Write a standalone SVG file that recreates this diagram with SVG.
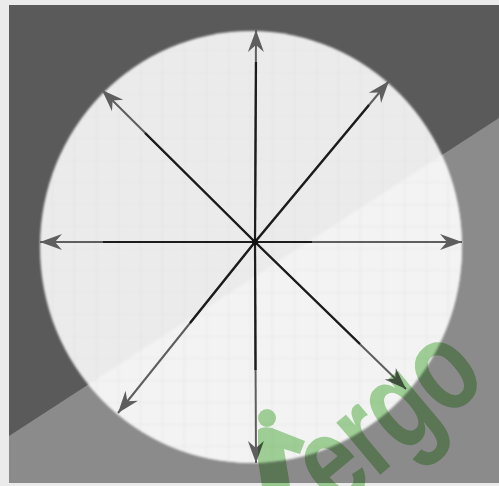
<svg xmlns="http://www.w3.org/2000/svg" width="499" height="486" viewBox="0 0 499 486">
<defs>
<style>
.dk{stroke:#1c1c1c;stroke-width:2.2;fill:none}
.gy{stroke:#5e5e5e;stroke-width:2;fill:none}
.wm{font-family:"Liberation Sans Narrow","Liberation Sans",Arial,sans-serif;font-weight:bold;fill:#a6d89c;mix-blend-mode:multiply}
</style>
<marker id="ah" viewBox="-24 -10 26 20" refX="0" refY="0" markerWidth="26" markerHeight="20" markerUnits="userSpaceOnUse" orient="auto">
<path d="M0,0 L-22,-8 L-15,0 L-22,8 Z" fill="#5e5e5e"/>
</marker>
<pattern id="grid" width="22" height="22" patternUnits="userSpaceOnUse" x="8" y="6">
<path d="M0,0 H22 M0,0 V22" stroke="#d9d9d9" stroke-width="1.2" fill="none"/>
</pattern>
<clipPath id="circ"><ellipse cx="251" cy="247" rx="211" ry="216"/></clipPath>
<filter id="soft" x="-5%" y="-5%" width="110%" height="110%"><feGaussianBlur stdDeviation="1.3"/></filter>
</defs>
<rect width="499" height="486" fill="#ebebeb"/>
<g id="background">
<rect x="9" y="5" width="490" height="478" fill="#5a5a5a"/>
<polygon points="9,436 499,118 499,483 9,483" fill="#8b8b8b"/>
</g>
<g id="disc" filter="url(#soft)">
<ellipse cx="251" cy="247" rx="211" ry="216" fill="#ebebeb"/>
<g clip-path="url(#circ)">
<polygon points="9,436 499,118 499,483 9,483" fill="#f3f3f3"/>
<rect x="0" y="0" width="499" height="486" fill="url(#grid)" opacity="0.6"/>
</g>
</g>
<g id="connectors">
<line class="gy" x1="255" y1="242" x2="256" y2="30" marker-end="url(#ah)"/>
<line class="dk" x1="255" y1="242" x2="256" y2="62"/>
<line class="gy" x1="255" y1="242" x2="389" y2="81" marker-end="url(#ah)"/>
<line class="dk" x1="255" y1="242" x2="369" y2="105"/>
<line class="gy" x1="255" y1="242" x2="462" y2="242" marker-end="url(#ah)"/>
<line class="dk" x1="255" y1="242" x2="312" y2="242"/>
<line class="gy" x1="255" y1="242" x2="406" y2="389" marker-end="url(#ah)"/>
<line class="dk" x1="255" y1="242" x2="360" y2="344"/>
<line class="gy" x1="255" y1="242" x2="256" y2="463" marker-end="url(#ah)"/>
<line class="dk" x1="255" y1="242" x2="255.5" y2="370"/>
<line class="gy" x1="255" y1="242" x2="118" y2="413" marker-end="url(#ah)"/>
<line class="dk" x1="255" y1="242" x2="190" y2="323"/>
<line class="gy" x1="255" y1="242" x2="40" y2="242" marker-end="url(#ah)"/>
<line class="dk" x1="255" y1="242" x2="103" y2="242"/>
<line class="gy" x1="255" y1="242" x2="102" y2="90" marker-end="url(#ah)"/>
<line class="dk" x1="255" y1="242" x2="145" y2="133"/>
<circle cx="255" cy="242" r="3" fill="#111"/>
</g>
<g id="watermark">
<circle cx="267" cy="418" r="9" fill="#a6d89c" style="mix-blend-mode:multiply"/>
<path d="M258,430 Q262,426 272,428 L305,441 L300,454 L284,449 L290,486 L262,486 L258,460 Z" fill="#a6d89c" style="mix-blend-mode:multiply"/>
<text class="wm" transform="translate(336,512) rotate(-40) scale(0.85,1.15)" font-size="112" letter-spacing="-2">ergo</text>
</g>
</svg>
